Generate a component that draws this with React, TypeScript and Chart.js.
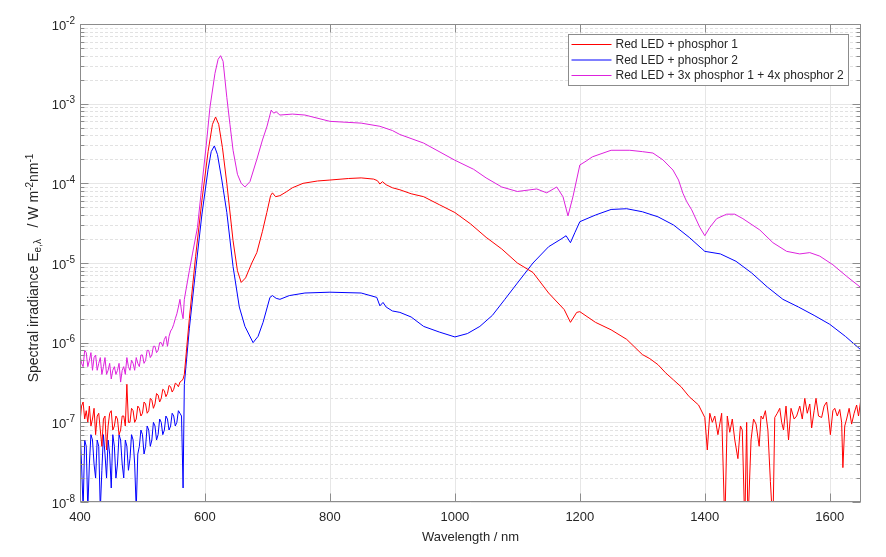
import { Chart, registerables, type Plugin } from 'chart.js';
import { useEffect, useRef, type FC } from 'react';

Chart.register(...registerables);

const FONT = '"Liberation Sans", Arial, Helvetica, sans-serif';
const TEXT = '#262626';
const AXIS = '#8c8c8c';

// wavelength / nm, shared by the noisy short-wavelength part of all three spectra
const lowNm = [
  400, 402.5, 405, 407.5, 410, 412.5, 415, 417.5, 420, 422.5, 425, 427.5, 430, 432.5, 435, 437.5,
  440, 442.5, 445, 447.5, 450, 452.5, 455, 457.5, 460, 462.5, 465, 467.5, 470, 472.5, 475, 477.5,
  480, 482.5, 485, 487.5, 490, 492.5, 495, 497.5, 500, 502.5, 505, 507.5, 510, 512.5, 515, 517.5,
  520, 522.5, 525, 527.5, 530, 532.5, 535, 537.5, 540, 542.5, 545, 547.5, 550, 552.5, 555, 557.5,
  560, 562.5, 565,
];

// spectral irradiance / W m^-2 nm^-1
const redLow = [
  1e-7, 1.6e-7, 1.8e-7, 1.1e-7, 1.4e-7, 1e-7, 1.6e-7, 9e-8, 1.1e-7, 1.5e-7, 7e-8, 1.2e-7, 1.3e-7,
  8e-8, 5e-8, 1.1e-7, 1.2e-7, 4.5e-8, 9e-8, 1.3e-7, 1.4e-7, 8e-8, 9e-8, 1.2e-7, 1.1e-7, 7e-8,
  8e-8, 1.2e-7, 1.2e-7, 9e-8, 3e-7, 1e-7, 1e-7, 1.5e-7, 1.4e-7, 1e-7, 1.1e-7, 1.6e-7, 1.5e-7,
  1.2e-7, 1.3e-7, 1.8e-7, 1.7e-7, 1.3e-7, 1.4e-7, 2e-7, 1.9e-7, 1.5e-7, 1.7e-7, 2.3e-7, 2.2e-7,
  1.8e-7, 2e-7, 2.6e-7, 2.5e-7, 2.1e-7, 2.3e-7, 2.9e-7, 2.8e-7, 2.4e-7, 2.6e-7, 3.1e-7, 3e-7,
  2.8e-7, 3.2e-7, 3.3e-7, 3.5e-7,
];
const blueLow = [
  9e-8, 3e-8, 8e-9, 6e-8, 5e-8, 8e-9, 3e-8, 7e-8, 6e-8, 3e-8, 2e-8, 6e-8, 5e-8, 8e-9, 2.5e-8,
  7e-8, 4e-8, 2e-8, 6e-8, 4e-8, 1.5e-8, 7e-8, 5e-8, 2e-8, 3e-8, 7e-8, 6e-8, 3e-8, 2e-8, 6e-8,
  5e-8, 2.5e-8, 3.5e-8, 7e-8, 6e-8, 3e-8, 8e-9, 4e-8, 5e-8, 8e-8, 7e-8, 4e-8, 5e-8, 9e-8, 8e-8,
  5e-8, 6e-8, 1e-7, 9e-8, 6e-8, 7e-8, 1.1e-7, 1e-7, 7e-8, 8e-8, 1.2e-7, 1.1e-7, 8e-8, 9e-8,
  1.3e-7, 1.2e-7, 9e-8, 1e-7, 1.4e-7, 1.3e-7, 1.2e-7, 1.5e-8,
];
const magLow = [
  7e-7, 5.5e-7, 5e-7, 8e-7, 7.5e-7, 5e-7, 6e-7, 7.5e-7, 4.5e-7, 6.5e-7, 7e-7, 4.5e-7, 5.5e-7,
  6.5e-7, 4e-7, 5e-7, 6.5e-7, 4e-7, 4.5e-7, 5.5e-7, 3.5e-7, 4.5e-7, 5e-7, 4e-7, 4.5e-7, 5.5e-7,
  3.2e-7, 4.5e-7, 5e-7, 4e-7, 6.5e-7, 5e-7, 4.5e-7, 6e-7, 5.5e-7, 4.5e-7, 6.5e-7, 5.5e-7, 5e-7,
  7e-7, 7e-7, 5.5e-7, 6e-7, 8e-7, 8e-7, 6.5e-7, 7e-7, 9e-7, 9e-7, 7.5e-7, 8e-7, 1e-6, 1e-6,
  9e-7, 1.1e-6, 1.2e-6, 9e-7, 1.2e-6, 1.4e-6, 1.5e-6, 1.7e-6, 2e-6, 2.3e-6, 2.8e-6, 3.5e-6,
  2.5e-6, 2e-6,
];

const redNm = [
  567, 575, 585, 595, 605, 612, 617, 622, 628, 635, 645, 652, 658, 665, 675, 683, 692, 699, 705,
  708, 713, 720, 730, 740, 757, 780, 800, 830, 850, 870, 876, 880, 884, 890, 900, 912, 930, 950,
  975, 1000, 1025, 1050, 1075, 1100, 1125, 1150, 1175, 1185, 1195, 1200, 1225, 1250, 1275, 1300,
  1312, 1325, 1337, 1350, 1362, 1375, 1390,
  1400, 1404, 1408, 1412, 1416, 1421, 1427, 1432, 1436, 1440, 1444, 1448, 1453, 1457, 1460, 1464,
  1467, 1469, 1474, 1478, 1482, 1487, 1490, 1493, 1497, 1501, 1505, 1509, 1512, 1516, 1520, 1523,
  1526, 1530, 1534, 1538, 1543, 1547, 1552, 1556, 1560, 1564, 1568, 1571, 1575, 1578, 1582, 1587,
  1591, 1595, 1598, 1601, 1605, 1608, 1612, 1616, 1619, 1621, 1624, 1627, 1631, 1635, 1639, 1643,
  1646, 1650,
];
const redIrr = [
  4e-7, 2e-6, 1.2e-5, 6e-5, 2.5e-4, 5.5e-4, 6.8e-4, 5.5e-4, 2.8e-4, 1e-4, 1.9e-5, 8e-6, 5.7e-6,
  6.5e-6, 1e-5, 1.35e-5, 2.5e-5, 4.3e-5, 7e-5, 7.6e-5, 6.8e-5, 7e-5, 7.8e-5, 8.8e-5, 1e-4,
  1.07e-4, 1.1e-4, 1.15e-4, 1.17e-4, 1.13e-4, 1.08e-4, 9.8e-5, 1.05e-4, 9.6e-5, 8.8e-5, 8.3e-5,
  7.4e-5, 6.8e-5, 5.4e-5, 4.3e-5, 3.1e-5, 2.1e-5, 1.5e-5, 1e-5, 7.6e-6, 4.2e-6, 2.6e-6, 1.8e-6,
  2.4e-6, 2.45e-6, 1.8e-6, 1.45e-6, 1.1e-6, 7.1e-7, 6.3e-7, 5.3e-7, 4.2e-7, 3.4e-7, 2.8e-7,
  2.1e-7, 1.65e-7,
  1.15e-7, 4.5e-8, 1.3e-7, 1e-7, 1.2e-7, 7e-8, 1.3e-7, 5e-9, 1.2e-7, 7.5e-8, 1.1e-7, 6e-8, 3.5e-8,
  9e-8, 8e-8, 5e-9, 1e-7, 5e-9, 6e-8, 1.1e-7, 9.5e-8, 5e-8, 1.2e-7, 1.1e-7, 1.4e-7, 8e-8, 1.8e-8,
  5e-9, 1.15e-7, 1.3e-7, 1.5e-7, 1e-7, 8e-8, 1.6e-7, 6e-8, 1.5e-7, 1.1e-7, 1.2e-7, 1.6e-7, 1.1e-7,
  2e-7, 1.3e-7, 1.7e-7, 8.5e-8, 1.4e-7, 2e-7, 1.2e-7, 1.15e-7, 1.6e-7, 1.8e-7, 1.2e-7, 7e-8,
  1.4e-7, 1.5e-7, 1.2e-7, 1.45e-7, 1e-7, 2.7e-8, 9e-8, 1.1e-7, 1.5e-7, 9.5e-8, 1.3e-7, 1.65e-7,
  1.2e-7, 2e-7,
];

const blueNm = [
  567, 575, 585, 595, 605, 610, 615, 620, 627, 635, 645, 655, 664, 677, 685, 693, 704, 708, 714,
  720, 735, 760, 800, 850, 875, 880, 885, 890, 900, 912, 930, 950, 975, 1000, 1020, 1040, 1060,
  1080, 1100, 1125, 1150, 1170, 1178, 1185, 1192, 1200, 1225, 1250, 1275, 1300, 1325, 1350, 1375,
  1400, 1425, 1450, 1475, 1500, 1525, 1550, 1575, 1600, 1625, 1650,
];
const blueIrr = [
  3e-7, 1.5e-6, 8e-6, 4e-5, 1.5e-4, 2.5e-4, 2.95e-4, 2.3e-4, 1.1e-4, 4.3e-5, 9e-6, 2.8e-6, 1.6e-6,
  1e-6, 1.2e-6, 1.8e-6, 3.7e-6, 3.9e-6, 3.6e-6, 3.5e-6, 3.9e-6, 4.2e-6, 4.3e-6, 4.2e-6, 3.7e-6,
  2.9e-6, 3.2e-6, 2.8e-6, 2.5e-6, 2.4e-6, 2.1e-6, 1.6e-6, 1.36e-6, 1.18e-6, 1.3e-6, 1.6e-6,
  2.2e-6, 3.5e-6, 5.6e-6, 1e-5, 1.6e-5, 2e-5, 2.2e-5, 1.8e-5, 2.4e-5, 3.3e-5, 4e-5, 4.7e-5,
  4.8e-5, 4.4e-5, 3.8e-5, 3e-5, 2.1e-5, 1.4e-5, 1.3e-5, 1.05e-5, 7.5e-6, 5e-6, 3.5e-6, 2.8e-6,
  2.2e-6, 1.7e-6, 1.2e-6, 8.1e-7,
];

const magNm = [
  567, 575, 580, 588, 596, 602, 608, 616, 621, 625, 629, 635, 640, 645, 652, 658, 664, 672, 683,
  692, 699, 706, 710, 714, 720, 740, 760, 800, 850, 880, 900, 912, 950, 1000, 1030, 1050, 1075,
  1100, 1131, 1147, 1163, 1173, 1181, 1189, 1200, 1210, 1220, 1250, 1280, 1300, 1317, 1333, 1349,
  1358, 1365, 1371, 1379, 1392, 1400, 1408, 1419, 1435, 1448, 1461, 1488, 1509, 1531, 1552, 1568,
  1584, 1605, 1627, 1650,
];
const magIrr = [
  3.5e-6, 8e-6, 1.3e-5, 2.8e-5, 1.1e-4, 3e-4, 9e-4, 2.4e-3, 3.6e-3, 4e-3, 3.4e-3, 1.2e-3, 5.5e-4,
  2.6e-4, 1.3e-4, 1e-4, 9e-5, 1.05e-4, 2e-4, 3.5e-4, 5.1e-4, 8.3e-4, 7.6e-4, 7.9e-4, 7.2e-4,
  7.4e-4, 7.2e-4, 6e-4, 5.7e-4, 5.2e-4, 4.6e-4, 4.1e-4, 3.2e-4, 1.95e-4, 1.5e-4, 1.17e-4, 9e-5,
  7.9e-5, 8.5e-5, 7.6e-5, 9e-5, 6.8e-5, 3.9e-5, 6.8e-5, 1.7e-4, 1.9e-4, 2.15e-4, 2.6e-4, 2.6e-4,
  2.5e-4, 2.4e-4, 1.97e-4, 1.47e-4, 1.1e-4, 7.5e-5, 5.9e-5, 4.65e-5, 2.8e-5, 2.2e-5, 2.8e-5,
  3.6e-5, 4.1e-5, 4.1e-5, 3.6e-5, 2.6e-5, 1.8e-5, 1.4e-5, 1.3e-5, 1.35e-5, 1.22e-5, 9.5e-6,
  6.8e-6, 4.9e-6,
];

const xTicks = [400, 600, 800, 1000, 1200, 1400, 1600];
const yExponents = [-8, -7, -6, -5, -4, -3, -2];

const seriesLabels = [
  'Red LED + phosphor 1',
  'Red LED + phosphor 2',
  'Red LED + 3x phosphor 1 + 4x phosphor 2',
];
const seriesColors = ['#ff0000', '#0000ff', '#dd22dd'];

const toPoints = (nm: number[], irr: number[]) => nm.map((x, i) => ({ x, y: irr[i] }));

// MATLAB-like axes: dashed minor grid, inward ticks, superscript labels, boxed legend
const matlabAxes: Plugin<'line'> = {
  id: 'matlabAxes',
  beforeDatasetsDraw(chart) {
    const { ctx, chartArea: a } = chart;
    const x = chart.scales.x;
    const y = chart.scales.y;
    const hline = (py: number) => {
      const p = Math.round(py) + 0.5;
      ctx.beginPath();
      ctx.moveTo(a.left, p);
      ctx.lineTo(a.right, p);
      ctx.stroke();
    };
    ctx.save();
    ctx.lineWidth = 1;
    ctx.strokeStyle = '#e2e2e2';
    ctx.setLineDash([3, 2]);
    for (const e of yExponents.slice(0, -1)) {
      for (let m = 2; m <= 9; m++) hline(y.getPixelForValue(m * 10 ** e));
    }
    ctx.setLineDash([]);
    ctx.strokeStyle = '#e6e6e6';
    for (const e of yExponents) hline(y.getPixelForValue(10 ** e));
    for (const v of xTicks) {
      const p = Math.round(x.getPixelForValue(v)) + 0.5;
      ctx.beginPath();
      ctx.moveTo(p, a.top);
      ctx.lineTo(p, a.bottom);
      ctx.stroke();
    }
    ctx.restore();
  },
  afterDatasetsDraw(chart) {
    const { ctx, chartArea: a } = chart;
    const x = chart.scales.x;
    const y = chart.scales.y;
    const seg = (x1: number, y1: number, x2: number, y2: number) => {
      ctx.beginPath();
      ctx.moveTo(x1, y1);
      ctx.lineTo(x2, y2);
      ctx.stroke();
    };
    ctx.save();
    ctx.lineWidth = 1;
    ctx.strokeStyle = AXIS;
    const L = Math.round(a.left) + 0.5;
    const R = Math.round(a.right) - 0.5;
    const T = Math.round(a.top) + 0.5;
    const B = Math.round(a.bottom) - 0.5;
    ctx.strokeRect(L, T, R - L, B - T);

    // ticks pointing inwards
    for (const v of xTicks) {
      const p = Math.round(x.getPixelForValue(v)) + 0.5;
      seg(p, B, p, B - 8);
      seg(p, T, p, T + 8);
    }
    for (const e of yExponents) {
      const p = Math.round(y.getPixelForValue(10 ** e)) + 0.5;
      seg(L, p, L + 8, p);
      seg(R, p, R - 8, p);
      if (e === -2) continue;
      for (let m = 2; m <= 9; m++) {
        const q = Math.round(y.getPixelForValue(m * 10 ** e)) + 0.5;
        seg(L, q, L + 4, q);
        seg(R, q, R - 4, q);
      }
    }

    // y tick labels 10^n
    ctx.fillStyle = TEXT;
    ctx.textBaseline = 'middle';
    for (const e of yExponents) {
      const p = y.getPixelForValue(10 ** e);
      const exp = String(e);
      ctx.font = `10px ${FONT}`;
      const ew = ctx.measureText(exp).width;
      const ex = a.left - 5 - ew;
      ctx.textAlign = 'left';
      ctx.fillText(exp, ex, p - 3);
      ctx.font = `13px ${FONT}`;
      ctx.textAlign = 'right';
      ctx.fillText('10', ex, p + 2);
    }

    // x axis title
    ctx.font = `13px ${FONT}`;
    ctx.textAlign = 'center';
    ctx.fillText('Wavelength / nm', (a.left + a.right) / 2, a.bottom + 35);

    // y axis title with sub- and superscripts
    const parts: [string, number, number][] = [
      ['Spectral irradiance E', 14, 0],
      ['e,\u03bb', 10, 3],
      ['   / W m', 14, 0],
      ['-2', 10, -5],
      ['nm', 14, 0],
      ['-1', 10, -5],
    ];
    let total = 0;
    for (const [t, s] of parts) {
      ctx.font = `${s}px ${FONT}`;
      total += ctx.measureText(t).width;
    }
    ctx.translate(33, (a.top + a.bottom) / 2 + 5);
    ctx.rotate(-Math.PI / 2);
    ctx.textAlign = 'left';
    ctx.textBaseline = 'alphabetic';
    let cx = -total / 2;
    for (const [t, s, dy] of parts) {
      ctx.font = `${s}px ${FONT}`;
      ctx.fillText(t, cx, 5 + dy);
      cx += ctx.measureText(t).width;
    }
    ctx.restore();

    // legend box, upper right inside the axes
    ctx.save();
    ctx.font = `12px ${FONT}`;
    const tw = Math.max(...seriesLabels.map((l) => ctx.measureText(l).width));
    const w = Math.round(3 + 40 + 4 + tw + 5);
    const h = 51;
    const bx = Math.round(a.right - 13 - w) + 0.5;
    const by = Math.round(a.top + 10) + 0.5;
    ctx.fillStyle = '#ffffff';
    ctx.fillRect(bx, by, w, h);
    ctx.strokeStyle = AXIS;
    ctx.lineWidth = 1;
    ctx.strokeRect(bx, by, w, h);
    ctx.textBaseline = 'middle';
    ctx.textAlign = 'left';
    seriesLabels.forEach((label, i) => {
      const cy = by + 10 + i * 15.5;
      ctx.strokeStyle = seriesColors[i];
      seg(bx + 3, cy, bx + 43, cy);
      ctx.fillStyle = TEXT;
      ctx.fillText(label, bx + 47, cy + 0.5);
    });
    ctx.restore();
  },
};

const App: FC = () => {
  const canvasRef = useRef<HTMLCanvasElement>(null);
  const chartRef = useRef<Chart<'line'> | null>(null);

  useEffect(() => {
    if (!canvasRef.current) {
      return;
    }
    document.body.style.margin = '0';

    const series = [
      toPoints([...lowNm, ...redNm], [...redLow, ...redIrr]),
      toPoints([...lowNm, ...blueNm], [...blueLow, ...blueIrr]),
      toPoints([...lowNm, ...magNm], [...magLow, ...magIrr]),
    ];

    chartRef.current = new Chart(canvasRef.current, {
      type: 'line',
      data: {
        datasets: series.map((data, i) => ({
          label: seriesLabels[i],
          data,
          borderColor: seriesColors[i],
          borderWidth: 1,
          pointRadius: 0,
          tension: 0,
          fill: false,
        })),
      },
      options: {
        animation: false,
        responsive: true,
        maintainAspectRatio: false,
        layout: { padding: { top: 24, right: 25, left: 0, bottom: 0 } },
        plugins: {
          legend: { display: false },
          tooltip: { enabled: false },
        },
        scales: {
          x: {
            type: 'linear',
            min: 400,
            max: 1650,
            grid: { display: false, drawTicks: false },
            border: { display: false },
            ticks: {
              color: TEXT,
              font: { family: FONT, size: 13 },
              padding: 8,
              maxRotation: 0,
              callback: (value) => String(value),
            },
            afterBuildTicks: (scale) => {
              scale.ticks = xTicks.map((value) => ({ value }));
            },
            afterFit: (scale) => {
              scale.height = 55;
            },
          },
          y: {
            type: 'logarithmic',
            min: 1e-8,
            max: 1e-2,
            grid: { display: false },
            border: { display: false },
            ticks: { display: false },
            afterFit: (scale) => {
              scale.width = 80;
            },
          },
        },
      },
      plugins: [matlabAxes],
    });

    return () => {
      chartRef.current?.destroy();
    };
  }, []);

  return (
    <div style={{ position: 'fixed', left: 0, top: 0, width: 886, height: 557, background: '#fff' }}>
      <canvas ref={canvasRef} />
    </div>
  );
};

export default App;
